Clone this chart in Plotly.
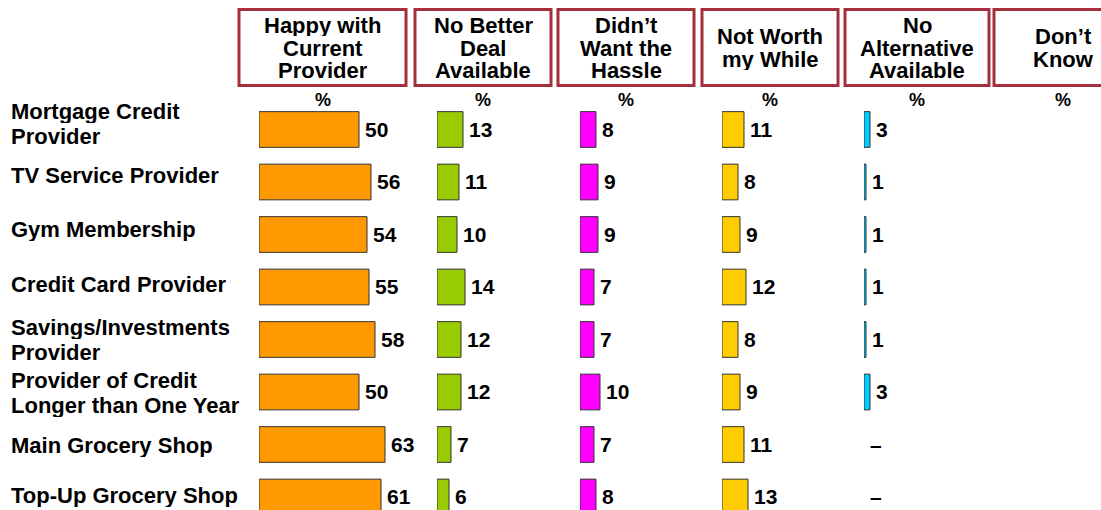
import plotly.graph_objects as go

# ---------------- data ----------------
categories = [
    "Mortgage Credit Provider",
    "TV Service Provider",
    "Gym Membership",
    "Credit Card Provider",
    "Savings/Investments Provider",
    "Provider of Credit Longer than One Year",
    "Main Grocery Shop",
    "Top-Up Grocery Shop",
]
category_lines = [
    ["Mortgage Credit", "Provider"],
    ["TV Service Provider"],
    ["Gym Membership"],
    ["Credit Card Provider"],
    ["Savings/Investments", "Provider"],
    ["Provider of Credit", "Longer than One Year"],
    ["Main Grocery Shop"],
    ["Top-Up Grocery Shop"],
]
happy_with_current = [50, 56, 54, 55, 58, 50, 63, 61]
no_better_deal = [13, 11, 10, 14, 12, 12, 7, 6]
didnt_want_hassle = [8, 9, 9, 7, 7, 10, 7, 8]
not_worth_while = [11, 8, 9, 12, 8, 9, 11, 13]
no_alternative = [3, 1, 1, 1, 1, 3, None, None]
dont_know = [None, None, None, None, None, None, None, None]

header_lines = [
    ["Happy with", "Current", "Provider"],
    ["No Better", "Deal", "Available"],
    ["Didn\u2019t", "Want the", "Hassle"],
    ["Not Worth", "my While"],
    ["No", "Alternative", "Available"],
    ["Don\u2019t", "Know"],
]
series = [happy_with_current, no_better_deal, didnt_want_hassle,
          not_worth_while, no_alternative, dont_know]

# ---------------- style / layout ----------------
W, H = 1101, 510
FONT = "Liberation Sans, Arial, Helvetica, sans-serif"
colors = ["#FF9900", "#99CC00", "#FF00FF", "#FFCC00", "#00CCFF", "#CCCCCC"]
bar_start_px = [259, 437, 580, 722, 864, 1006]
axis_width_px = [160, 90, 90, 90, 90, 90]
PX_PER_UNIT = 2.0
box_x_px = [(239, 406), (415, 551), (558, 694), (702, 838), (845, 989), (994, 1132)]
box_y_px = (9.5, 85.5)
header_line_y3 = [25.5, 48, 70.5]
header_line_y2 = [36.5, 59]
pct_y_px = 100
row_center_first, row_step = 129.5, 52.5
label_shift = [-6, -6.5, -5.5, -3, 0.5, 1, 1, -1.5]
label_line_gap = 25
BORDER = "#A52F3D"
LABEL_SIZE = 22
VALUE_SIZE = 21

fig = go.Figure()
annotations = []
shapes = []

for i, vals in enumerate(series):
    if all(v is None for v in vals):
        continue
    xname = "x" if i == 0 else f"x{i+1}"
    xs = [0 if v is None else v for v in vals]
    lw = [0 if v is None else 1 for v in vals]
    fig.add_trace(go.Bar(
        y=categories, x=xs, orientation="h",
        xaxis=xname, yaxis="y",
        width=0.68,
        marker=dict(color=colors[i], line=dict(color="#333333", width=lw)),
        hoverinfo="skip", showlegend=False,
    ))
    for cat, v, xv in zip(categories, vals, xs):
        annotations.append(dict(
            text="\u2013" if v is None else str(v),
            x=xv, xref=xname, y=cat, yref="y",
            xanchor="left", yanchor="middle", showarrow=False,
            xshift=4, yshift=0.5,
            font=dict(family=FONT, size=VALUE_SIZE, color="#000000", weight="bold")))

# y axis: category positions mapped so rows land at the right pixels
top_val = -row_center_first / row_step
bottom_val = (H - row_center_first) / row_step
layout_axes = dict(
    yaxis=dict(type="category", categoryorder="array", categoryarray=categories,
               range=[bottom_val, top_val], domain=[0, 1], visible=False,
               fixedrange=True),
)
for i in range(len(series)):
    key = "xaxis" if i == 0 else f"xaxis{i+1}"
    d0 = bar_start_px[i] / W
    d1 = min((bar_start_px[i] + axis_width_px[i]) / W, 1.0)
    rng = (d1 - d0) * W / PX_PER_UNIT
    layout_axes[key] = dict(domain=[d0, d1], range=[0, rng], anchor="y",
                            visible=False, fixedrange=True)

for i, lines in enumerate(header_lines):
    x0, x1 = box_x_px[i]
    cx = (x0 + x1) / 2
    shapes.append(dict(type="rect", xref="paper", yref="paper",
                       x0=x0 / W, x1=x1 / W,
                       y0=1 - box_y_px[1] / H, y1=1 - box_y_px[0] / H,
                       line=dict(color=BORDER, width=3), fillcolor="white",
                       layer="below"))
    ys = header_line_y3 if len(lines) == 3 else header_line_y2
    for line, ypx in zip(lines, ys):
        annotations.append(dict(
            text=line, x=cx / W, y=1 - ypx / H, xref="paper", yref="paper",
            xanchor="center", yanchor="middle", showarrow=False,
            height=21, valign="middle", borderpad=0,
            font=dict(family=FONT, size=LABEL_SIZE, color="#000000", weight="bold")))
    annotations.append(dict(
        text="%", x=cx / W, y=1 - pct_y_px / H, xref="paper", yref="paper",
        xanchor="center", yanchor="middle", showarrow=False,
        font=dict(family=FONT, size=18, color="#000000", weight="bold")))

for k, (cat, lines) in enumerate(zip(categories, category_lines)):
    m = len(lines)
    for j, line in enumerate(lines):
        annotations.append(dict(
            text=line, x=10 / W, xref="paper", y=cat, yref="y",
            xanchor="left", yanchor="middle", showarrow=False,
            height=23, valign="middle", borderpad=0,
            yshift=-label_shift[k] + ((m - 1) / 2 - j) * label_line_gap,
            font=dict(family=FONT, size=LABEL_SIZE, color="#000000", weight="bold")))

fig.update_layout(
    width=W, height=H,
    margin=dict(l=0, r=0, t=0, b=0),
    paper_bgcolor="white", plot_bgcolor="white",
    barmode="overlay", showlegend=False,
    annotations=annotations, shapes=shapes,
    **layout_axes,
)

fig.write_html("out.html", config={"displayModeBar": False})
